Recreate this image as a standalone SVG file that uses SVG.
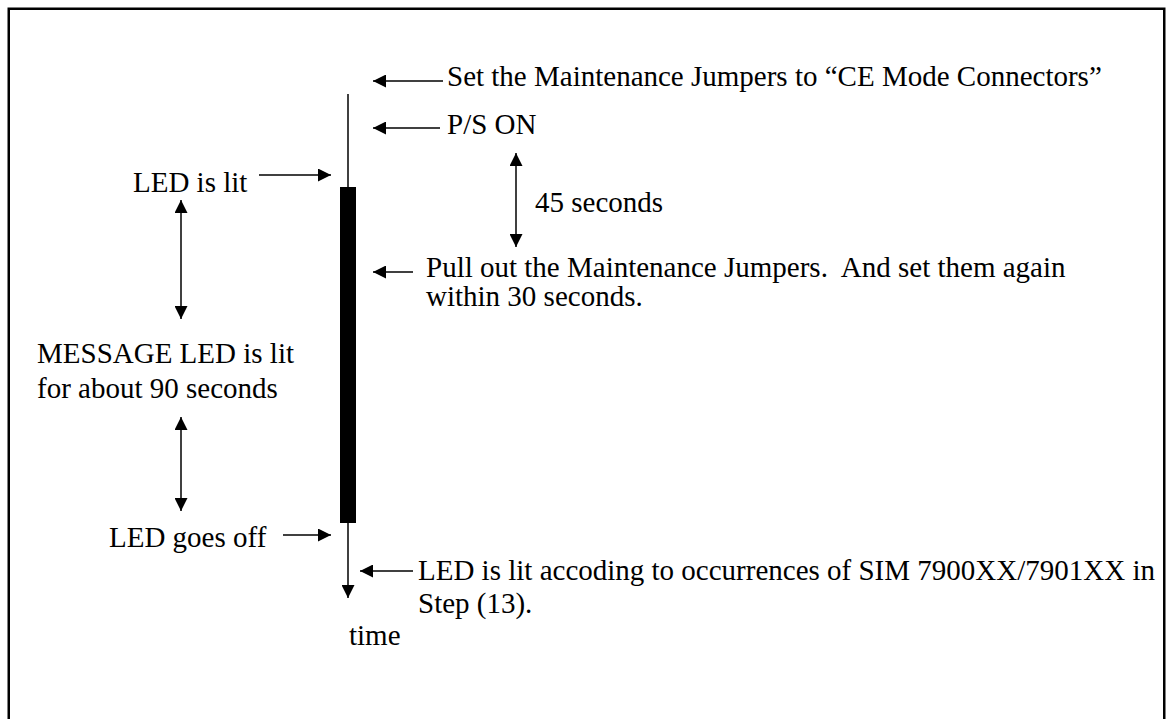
<svg xmlns="http://www.w3.org/2000/svg" width="1170" height="719" viewBox="0 0 1170 719">
<style>
text{font-family:"Liberation Serif","Times New Roman",serif;font-size:29px;fill:#000}
.ln{stroke:#000;stroke-width:1.5;fill:none}
</style>
<defs>
<marker id="ah" markerUnits="userSpaceOnUse" markerWidth="13" markerHeight="13" viewBox="0 0 12 12" refX="12" refY="6" orient="auto-start-reverse">
<path d="M0,0 L12,6 L0,12 Z" fill="#000"/>
</marker>
</defs>
<rect x="0" y="0" width="1170" height="719" fill="#fff"/>
<rect id="frame" x="8.75" y="8.75" width="1155.5" height="740" fill="none" stroke="#000" stroke-width="2.5"/>
<g id="timeline">
<line class="ln" x1="348" y1="94" x2="348" y2="598" marker-end="url(#ah)"/>
<rect x="340" y="187" width="16" height="336" fill="#000"/>
<text x="349" y="645">time</text>
</g>
<g id="connectors">
<line class="ln" x1="443" y1="81" x2="373" y2="81" marker-end="url(#ah)"/>
<line class="ln" x1="440" y1="128" x2="373" y2="128" marker-end="url(#ah)"/>
<line class="ln" x1="516" y1="153" x2="516" y2="247" marker-start="url(#ah)" marker-end="url(#ah)"/>
<line class="ln" x1="259" y1="175" x2="331" y2="175" marker-end="url(#ah)"/>
<line class="ln" x1="413" y1="272" x2="373" y2="272" marker-end="url(#ah)"/>
<line class="ln" x1="283" y1="535" x2="331" y2="535" marker-end="url(#ah)"/>
<line class="ln" x1="413" y1="571" x2="360" y2="571" marker-end="url(#ah)"/>
<line class="ln" x1="181" y1="200" x2="181" y2="319" marker-start="url(#ah)" marker-end="url(#ah)"/>
<line class="ln" x1="181" y1="417" x2="181" y2="511" marker-start="url(#ah)" marker-end="url(#ah)"/>
</g>
<g id="set-jumpers"><text x="447" y="86">Set the Maintenance Jumpers to “CE Mode Connectors”</text></g>
<g id="ps-on"><text x="447" y="134">P/S ON</text></g>
<g id="led-lit"><text x="133" y="192">LED is lit</text></g>
<g id="sec45"><text x="535" y="212">45 seconds</text></g>
<g id="pull-out"><text x="426" y="277" xml:space="preserve">Pull out the Maintenance Jumpers.  And set them again</text><text x="426" y="306">within 30 seconds.</text></g>
<g id="message"><text x="37" y="363">MESSAGE LED is lit</text><text x="37" y="398">for about 90 seconds</text></g>
<g id="led-off"><text x="109" y="547">LED goes off</text></g>
<g id="led-acc"><text x="418" y="580">LED is lit accoding to occurrences of SIM 7900XX/7901XX in</text><text x="418" y="613">Step (13).</text></g>
</svg>
